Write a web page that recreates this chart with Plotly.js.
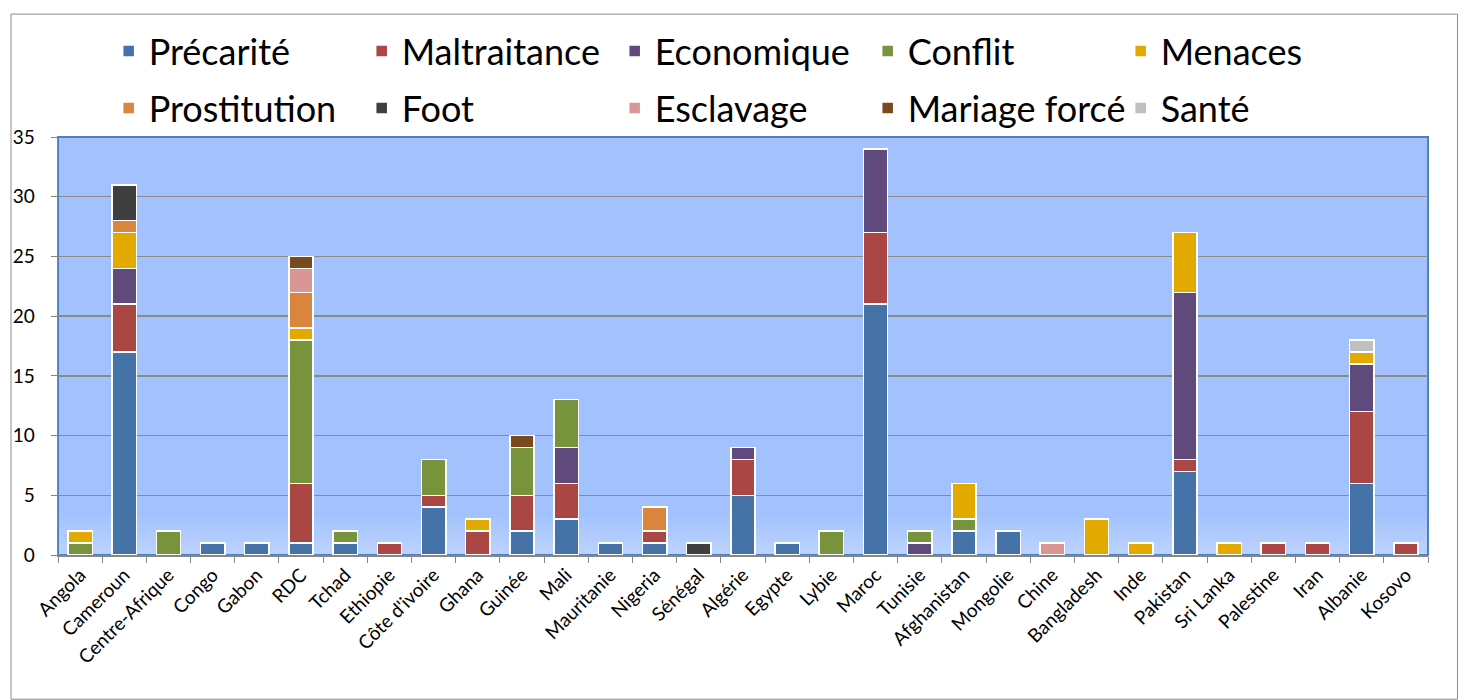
<!DOCTYPE html>
<html>
<head>
<meta charset="utf-8">
<script src="https://cdn.plot.ly/plotly-3.0.1.min.js"></script>
<style>
html,body{margin:0;padding:0;background:#fff;}
#chart{width:1458px;height:700px;}
</style>
</head>
<body>
<div id="chart"></div>
<script>
const countries = ["Angola","Cameroun","Centre-Afrique","Congo","Gabon","RDC","Tchad","Ethiopie","Côte d'ivoire","Ghana","Guinée","Mali","Mauritanie","Nigeria","Sénégal","Algérie","Egypte","Lybie","Maroc","Tunisie","Afghanistan","Mongolie","Chine","Bangladesh","Inde","Pakistan","Sri Lanka","Palestine","Iran","Albanie","Kosovo"];

const precarite    = [0,17,0,1,1,1,1,0,4,0,2,3,1,1,0,5,1,0,21,0,2,2,0,0,0,7,0,0,0,6,0];
const maltraitance = [0,4,0,0,0,5,0,1,1,2,3,3,0,1,0,3,0,0,6,0,0,0,0,0,0,1,0,1,1,6,1];
const economique   = [0,3,0,0,0,0,0,0,0,0,0,3,0,0,0,1,0,0,7,1,0,0,0,0,0,14,0,0,0,4,0];
const conflit      = [1,0,2,0,0,12,1,0,3,0,4,4,0,0,0,0,0,2,0,1,1,0,0,0,0,0,0,0,0,0,0];
const menaces      = [1,3,0,0,0,1,0,0,0,1,0,0,0,0,0,0,0,0,0,0,3,0,0,3,1,5,1,0,0,1,0];
const prostitution = [0,1,0,0,0,3,0,0,0,0,0,0,0,2,0,0,0,0,0,0,0,0,0,0,0,0,0,0,0,0,0];
const foot         = [0,3,0,0,0,0,0,0,0,0,0,0,0,0,1,0,0,0,0,0,0,0,0,0,0,0,0,0,0,0,0];
const esclavage    = [0,0,0,0,0,2,0,0,0,0,0,0,0,0,0,0,0,0,0,0,0,0,1,0,0,0,0,0,0,0,0];
const mariageForce = [0,0,0,0,0,1,0,0,0,0,1,0,0,0,0,0,0,0,0,0,0,0,0,0,0,0,0,0,0,0,0];
const sante        = [0,0,0,0,0,0,0,0,0,0,0,0,0,0,0,0,0,0,0,0,0,0,0,0,0,0,0,0,0,1,0];

const seriesNames  = ["Précarité","Maltraitance","Economique","Conflit","Menaces","Prostitution","Foot","Esclavage","Mariage forcé","Santé"];
const seriesValues = [precarite,maltraitance,economique,conflit,menaces,prostitution,foot,esclavage,mariageForce,sante];
const seriesColors = ["#4572a7","#aa4643","#604a7b","#77933c","#e2aa00","#db843d","#3f3f3f","#d99694","#7a4a1f","#bfbfbf"];

const yTicks = [0,5,10,15,20,25,30,35];

const FONT = "Lato, 'Liberation Sans', sans-serif";

const traces = seriesNames.map((name,i)=>({
  type:"bar",
  name:name,
  legend: i < 5 ? "legend" : "legend2",
  x:countries,
  y:seriesValues[i].map(v=> v===0 ? null : v),
  marker:{color:seriesColors[i], line:{color:"#ffffff", width:1.5}},
  hoverinfo:"x+y+name"
}));

const legendBase = {
  orientation:"h",
  traceorder:"normal",
  x:0.037, xanchor:"left",
  yanchor:"top",
  entrywidth:208, entrywidthmode:"pixels",
  font:{family:FONT, size:36, color:"#000"},
  bgcolor:"rgba(0,0,0,0)",
  itemclick:false
};

// soft light band at the bottom of the plot area (decoration)
const gradShapes = [];
const nBands = 8;
for (let k = 0; k < nBands; k++) {
  gradShapes.push({type:"rect", xref:"paper", yref:"paper",
    x0:0, x1:1, y0:0, y1:0.09*(k+1)/nBands,
    line:{width:0}, fillcolor:"rgba(255,255,255,0.045)", layer:"below"});
}

const layout = {
  width:1458, height:700,
  margin:{l:58, r:30, t:137, b:145},
  paper_bgcolor:"#ffffff",
  plot_bgcolor:"#a3c2fd",
  barmode:"stack",
  bargap:0.45,
  font:{family:FONT, color:"#000"},
  showlegend:true,
  legend:Object.assign({}, legendBase, {y:1.2775}),
  legend2:Object.assign({}, legendBase, {y:1.141}),
  xaxis:{
    type:"category",
    tickangle:-45,
    tickfont:{family:FONT, size:19, color:"#000"},
    ticks:"outside", tickson:"boundaries", ticklen:6, tickcolor:"#868686",
    showline:true, linecolor:"#868686", linewidth:1.5,
    showgrid:false,
    automargin:false
  },
  yaxis:{
    range:[0,35],
    tickvals:yTicks,
    tickfont:{family:FONT, size:19, color:"#000"},
    ticks:"outside", ticklen:6, tickcolor:"#868686",
    ticklabelstandoff:12,
    showline:true, linecolor:"#868686", linewidth:1.5,
    showgrid:true, gridcolor:"#8a8a8a", gridwidth:1.5,
    zeroline:false,
    automargin:false
  },
  shapes:gradShapes.concat([
    {type:"rect", xref:"paper", yref:"paper", x0:0, x1:1, y0:0, y1:1,
     line:{color:"#4f81bd", width:2}, layer:"below"},
    {type:"rect", xref:"paper", yref:"paper", x0:-0.0343, x1:1.0215, y0:-0.345, y1:1.294,
     line:{color:"#8c8c8c", width:1}, fillcolor:"rgba(0,0,0,0)", layer:"below"}
  ])
};

Plotly.newPlot("chart", traces, layout, {displayModeBar:false, staticPlot:true});
</script>
</body>
</html>
